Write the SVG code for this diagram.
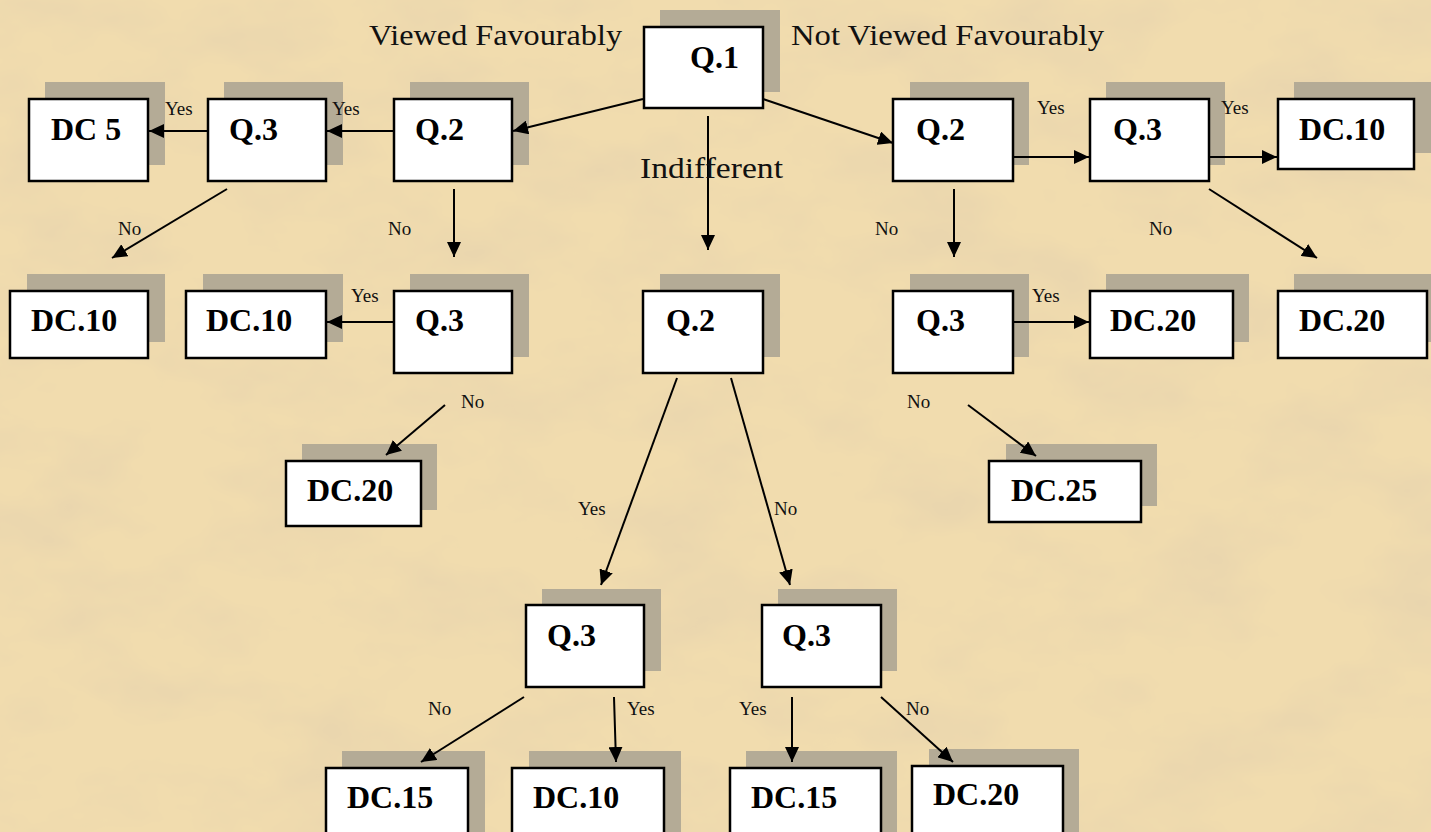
<svg xmlns="http://www.w3.org/2000/svg" width="1431" height="832" viewBox="0 0 1431 832">
<defs>
  <filter id="tex" x="0" y="0" width="100%" height="100%" filterUnits="userSpaceOnUse">
    <feTurbulence type="fractalNoise" baseFrequency="0.008 0.014" numOctaves="4" seed="7" result="n"/>
    <feColorMatrix in="n" type="matrix" values="0 0 0 0 0.78  0 0 0 0 0.64  0 0 0 0 0.42  1.4 0 0 0 -0.58"/>
  </filter>
  <marker id="ah" markerUnits="userSpaceOnUse" markerWidth="16" markerHeight="14" refX="15" refY="7" orient="auto">
    <path d="M0,0 L15,7 L0,14 z" fill="#000"/>
  </marker>
  <style>
    .sh { fill: #b4ab96; }
    .bx { fill: #fff; stroke: #000; stroke-width: 2.5; }
    .t { font-family: "Liberation Serif", "Times New Roman", serif; font-weight: bold; font-size: 32px; fill: #000; }
    .l { font-family: "Liberation Serif", "Times New Roman", serif; font-size: 19px; fill: #111; }
    .big { font-family: "Liberation Serif", "Times New Roman", serif; font-size: 30px; fill: #111; }
    .c { fill: none; stroke: #000; stroke-width: 2; marker-end: url(#ah); }
  </style>
</defs>
<rect x="0" y="0" width="1431" height="832" fill="#f1dcae"/>
<rect x="0" y="0" width="1431" height="832" filter="url(#tex)"/>

<g id="q1"><rect class="sh" x="660" y="10" width="120" height="82"/><rect class="bx" x="644" y="27" width="119" height="81"/><text class="t" x="690" y="68">Q.1</text></g>

<g id="dc5"><rect class="sh" x="45" y="82" width="120" height="83"/><rect class="bx" x="29" y="99" width="119" height="82"/><text class="t" x="51" y="140">DC 5</text></g>
<g id="q3-a"><rect class="sh" x="224" y="82" width="119" height="83"/><rect class="bx" x="208" y="99" width="118" height="82"/><text class="t" x="229" y="140">Q.3</text></g>
<g id="q2-fav"><rect class="sh" x="410" y="82" width="119" height="83"/><rect class="bx" x="394" y="99" width="118" height="82"/><text class="t" x="415" y="140">Q.2</text></g>
<g id="q2-notfav"><rect class="sh" x="910" y="82" width="119" height="83"/><rect class="bx" x="893" y="99" width="120" height="82"/><text class="t" x="916" y="140">Q.2</text></g>
<g id="q3-b"><rect class="sh" x="1106" y="82" width="119" height="83"/><rect class="bx" x="1090" y="99" width="119" height="82"/><text class="t" x="1113" y="140">Q.3</text></g>
<g id="dc10-a"><rect class="sh" x="1294" y="82" width="137" height="71"/><rect class="bx" x="1278" y="99" width="136" height="70"/><text class="t" x="1299" y="140">DC.10</text></g>

<g id="dc10-b"><rect class="sh" x="27" y="274" width="138" height="68"/><rect class="bx" x="10" y="291" width="138" height="67"/><text class="t" x="31" y="331">DC.10</text></g>
<g id="dc10-c"><rect class="sh" x="203" y="274" width="140" height="68"/><rect class="bx" x="186" y="291" width="140" height="67"/><text class="t" x="206" y="331">DC.10</text></g>
<g id="q3-c"><rect class="sh" x="410" y="274" width="119" height="83"/><rect class="bx" x="394" y="291" width="118" height="82"/><text class="t" x="415" y="331">Q.3</text></g>
<g id="q2-ind"><rect class="sh" x="660" y="274" width="120" height="83"/><rect class="bx" x="643" y="291" width="120" height="82"/><text class="t" x="666" y="331">Q.2</text></g>
<g id="q3-d"><rect class="sh" x="910" y="274" width="119" height="83"/><rect class="bx" x="893" y="291" width="120" height="82"/><text class="t" x="916" y="331">Q.3</text></g>
<g id="dc20-a"><rect class="sh" x="1106" y="274" width="143" height="68"/><rect class="bx" x="1090" y="291" width="143" height="67"/><text class="t" x="1110" y="331">DC.20</text></g>
<g id="dc20-b"><rect class="sh" x="1294" y="274" width="140" height="68"/><rect class="bx" x="1278" y="291" width="149" height="67"/><text class="t" x="1299" y="331">DC.20</text></g>

<g id="dc20-c"><rect class="sh" x="302" y="444" width="135" height="66"/><rect class="bx" x="286" y="461" width="135" height="65"/><text class="t" x="307" y="501">DC.20</text></g>
<g id="dc25"><rect class="sh" x="1006" y="444" width="151" height="62"/><rect class="bx" x="989" y="461" width="152" height="61"/><text class="t" x="1011" y="501">DC.25</text></g>

<g id="q3-e"><rect class="sh" x="542" y="589" width="119" height="82"/><rect class="bx" x="526" y="605" width="118" height="82"/><text class="t" x="547" y="646">Q.3</text></g>
<g id="q3-f"><rect class="sh" x="778" y="589" width="119" height="82"/><rect class="bx" x="762" y="605" width="119" height="82"/><text class="t" x="782" y="646">Q.3</text></g>

<g id="dc15-a"><rect class="sh" x="342" y="751" width="143" height="90"/><rect class="bx" x="326" y="768" width="142" height="80"/><text class="t" x="347" y="808">DC.15</text></g>
<g id="dc10-d"><rect class="sh" x="529" y="751" width="152" height="90"/><rect class="bx" x="512" y="768" width="152" height="80"/><text class="t" x="533" y="808">DC.10</text></g>
<g id="dc15-b"><rect class="sh" x="746" y="751" width="151" height="90"/><rect class="bx" x="730" y="768" width="151" height="80"/><text class="t" x="751" y="808">DC.15</text></g>
<g id="dc20-d"><rect class="sh" x="929" y="749" width="150" height="90"/><rect class="bx" x="912" y="766" width="151" height="80"/><text class="t" x="933" y="805">DC.20</text></g>

<g id="connectors">
  <path class="c" d="M643,99 L513,131"/>
  <path class="c" d="M763,99 L893,143"/>
  <path class="c" d="M708,116 L708,250"/>
  <path class="c" d="M394,131 L327,131"/>
  <path class="c" d="M208,131 L149,131"/>
  <path class="c" d="M227,189 L112,258"/>
  <path class="c" d="M454,189 L454,257"/>
  <path class="c" d="M394,322 L327,322"/>
  <path class="c" d="M445,405 L386,455"/>
  <path class="c" d="M1013,157 L1089,157"/>
  <path class="c" d="M1209,157 L1277,157"/>
  <path class="c" d="M954,189 L954,257"/>
  <path class="c" d="M1209,189 L1317,258"/>
  <path class="c" d="M1013,322 L1089,322"/>
  <path class="c" d="M968,405 L1036,456"/>
  <path class="c" d="M677,378 L601,585"/>
  <path class="c" d="M731,378 L790,585"/>
  <path class="c" d="M524,697 L421,762"/>
  <path class="c" d="M614,697 L616,762"/>
  <path class="c" d="M792,697 L792,762"/>
  <path class="c" d="M881,697 L953,762"/>
</g>

<g id="labels">
  <text class="big" x="369" y="45" textLength="253" lengthAdjust="spacingAndGlyphs">Viewed Favourably</text>
  <text class="big" x="791" y="45" textLength="313" lengthAdjust="spacingAndGlyphs">Not Viewed Favourably</text>
  <text class="big" x="640" y="178" textLength="143" lengthAdjust="spacingAndGlyphs">Indifferent</text>
  <text class="l" x="165" y="115">Yes</text>
  <text class="l" x="332" y="115">Yes</text>
  <text class="l" x="118" y="235">No</text>
  <text class="l" x="388" y="235">No</text>
  <text class="l" x="1037" y="114">Yes</text>
  <text class="l" x="1221" y="114">Yes</text>
  <text class="l" x="875" y="235">No</text>
  <text class="l" x="1149" y="235">No</text>
  <text class="l" x="351" y="302">Yes</text>
  <text class="l" x="461" y="408">No</text>
  <text class="l" x="1032" y="302">Yes</text>
  <text class="l" x="907" y="408">No</text>
  <text class="l" x="578" y="515">Yes</text>
  <text class="l" x="774" y="515">No</text>
  <text class="l" x="428" y="715">No</text>
  <text class="l" x="627" y="715">Yes</text>
  <text class="l" x="739" y="715">Yes</text>
  <text class="l" x="906" y="715">No</text>
</g>
</svg>
